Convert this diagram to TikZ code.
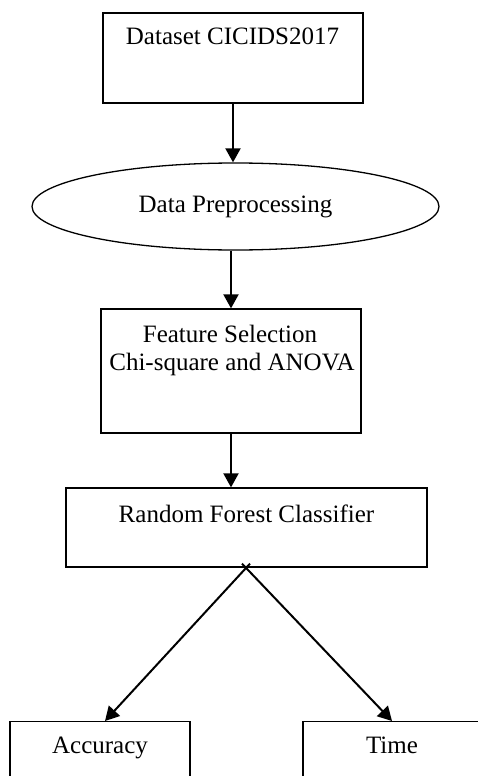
\documentclass[tikz,border=0pt]{standalone}
\usepackage{fontspec}
\setmainfont{Liberation Serif}
\usetikzlibrary{shapes.geometric,arrows.meta,calc}
\begin{document}
\begin{tikzpicture}[x=1pt,y=-1pt,
  box/.style={draw,line width=1.3pt,inner sep=0pt},
  oval/.style={draw,ellipse,line width=1.3pt,inner sep=0pt},
  caption/.style={font=\fontsize{25}{28}\selectfont,inner sep=0pt,anchor=base},
  flow/.style={line width=2pt,-{Triangle[length=14pt,width=15pt]}}]
\clip (0,0) rectangle (478,776);

% pipeline stages
\node[box,minimum width=260pt,minimum height=90pt] (ds) at (233,58) {};
\node[caption] (dst) at (232.5,45) {Dataset CICIDS2017};

\node[oval,minimum width=407pt,minimum height=87pt,
      font=\fontsize{25}{28}\selectfont] (pre) at (235.5,206.5) {Data Preprocessing};

\node[box,minimum width=260pt,minimum height=124pt] (fs) at (231,371) {};
\node[caption] (fst1) at (230,342) {Feature Selection};
\node[caption] (fst2) at (232,370) {Chi-square and ANOVA};

\node[box,minimum width=361pt,minimum height=79pt] (rf) at (246.5,527.5) {};
\node[caption] (rft) at (246.5,522) {Random Forest Classifier};

% outcome boxes (cut off by the page edge)
\node[box,minimum width=180pt,minimum height=100pt,anchor=north] (acc) at (100,721) {};
\node[caption] (acct) at (100,753) {Accuracy};
\node[box,minimum width=178pt,minimum height=100pt,anchor=north] (time) at (392,721) {};
\node[caption] (timet) at (392,753) {Time};

% connectors
\draw[flow] (ds.south) -- (ds.south |- pre.north);
\draw[flow] (pre.south -| fs.north) -- (fs.north);
\draw[flow] (fs.south) -- (fs.south |- rf.north);
\draw[flow] ($(rf.south)+(3.5,-4)$) -- ($(acc.north)+(5,0)$);
\draw[flow] ($(rf.south)+(-4.5,-4)$) -- (time.north);
\end{tikzpicture}
\end{document}
